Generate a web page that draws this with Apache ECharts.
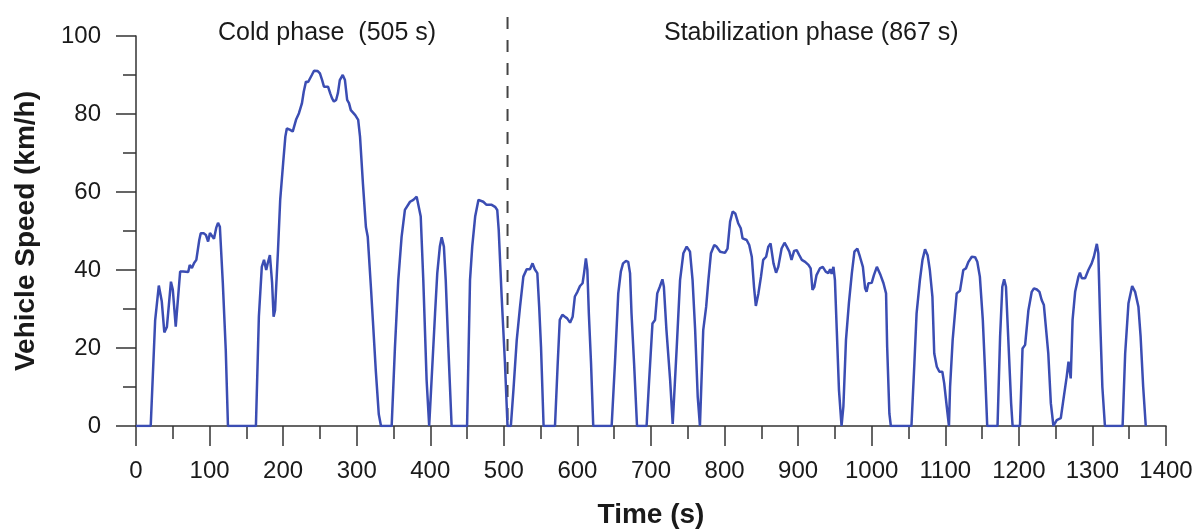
<!DOCTYPE html>
<html>
<head>
<meta charset="utf-8">
<script src="https://cdn.jsdelivr.net/npm/echarts@6/dist/echarts.min.js"></script>
<style>
  html, body { margin: 0; padding: 0; background: #fff; }
  #chart { width: 1197px; height: 530px; }
</style>
</head>
<body>
<div id="chart"></div>
<script>
// time (s) and speed (km/h)
const timeS = [
  0, 20, 26, 31, 35, 38.5, 42, 47.5, 50, 54, 60, 64, 71, 73, 76, 79, 82, 86, 88, 92, 95, 98, 100.5, 103, 106, 109, 111.5, 114, 118, 122, 125,
  163, 167, 171, 174, 177, 179, 182, 185, 187, 189, 193, 196, 200, 203, 205, 209, 213, 217.5, 221.5, 225.5, 228, 231, 234, 236.5, 239, 242, 247, 250,
  253, 255.5, 258, 261, 264, 266.5, 269, 272, 274.5, 277, 281, 284, 287, 289.5, 292, 298, 302, 304.5, 308.5, 312.5, 315, 319.5, 322, 326, 330, 333,
  347.5, 352, 356.5, 361, 365.5, 368, 372.5, 377, 381.5, 387, 390.5, 395, 398.5, 401, 406.5, 409.5, 413, 415.5, 418.5, 421, 424.5, 429,
  450, 454, 457, 461, 465.5, 472, 476.5, 483.5, 488, 491, 493, 497, 501.5, 505, 509.5, 513, 517.5, 522, 526.5, 531, 535.5, 539, 542, 545.5, 548, 550.5, 554,
  569.5, 573, 576, 579.5, 583, 586, 590, 593.5, 596.5, 600, 603.5, 607, 609, 611.5, 613.5, 615.5, 618.5, 621.5,
  646.5, 651, 655.5, 659, 662, 666, 669, 671.5, 673.5, 677, 681, 694, 697.5, 702, 705.5, 708.5, 712, 715.5, 717.5, 721, 726, 729.5,
  735, 739.5, 744, 748.5, 753, 756.5, 760, 763.5, 766.5, 771, 775, 778, 781.5, 786, 789, 794, 800.5, 804, 807.5, 811, 814.5, 818.5, 822, 824.5,
  830, 833.5, 837, 840, 842.5, 846, 849.5, 852.5, 856.5, 859.5, 862.5, 866.5, 870, 873, 877.5, 881.5, 884.5, 888, 891, 894.5, 898, 901.5, 905,
  909.5, 914, 917, 919.5, 922, 925, 929.5, 933.5, 937.5, 941, 943.5, 945.5, 948, 950, 952.5, 955.5, 959, 961.5, 965, 969, 973, 976.5, 980.5, 984,
  988, 991, 993, 995.5, 1000, 1003, 1007, 1009.5, 1012, 1016, 1019.5, 1021, 1024, 1026,
  1054, 1058, 1061, 1065.5, 1069, 1072.5, 1076, 1079, 1082.5, 1085, 1088.5, 1092, 1096, 1098.5, 1102, 1105,
  1106.5, 1110, 1115.5, 1120, 1124.5, 1128, 1131.5, 1136, 1140.5, 1143.5, 1147, 1151, 1154, 1157,
  1171, 1174.5, 1177.5, 1180, 1182.5, 1185.5, 1189.5, 1191.5,
  1201.5, 1205, 1208.5, 1213, 1217.5, 1220.5, 1224.5, 1228, 1231, 1234, 1236.5, 1240, 1243.5, 1247,
  1251.5, 1257, 1260.5, 1265, 1267.5, 1270.5, 1273, 1276.5, 1281, 1283, 1285.5, 1290, 1294.5, 1299, 1302, 1306, 1308, 1310.5, 1313.5, 1317,
  1341, 1344.5, 1349, 1354, 1358, 1362.5, 1365.5, 1369, 1372.5
];
const speedKmh = [
  0, 0, 27, 36, 32, 24, 25.4, 37, 35, 25.5, 39.6, 39.6, 39.5, 41.3, 40.5, 41.8, 42.6, 47.7, 49.4, 49.4, 49, 47.3, 49.5, 49, 48, 50.8, 52.1, 51.1, 36.7, 19.5, 0,
  0, 28, 40.8, 42.6, 40, 41.7, 43.8, 36.7, 28, 29.7, 45, 58, 67.4, 74.2, 76.3, 76, 75.5, 78.5, 80.2, 82.7, 85.7, 88.3, 88.2, 89.1, 90, 91.1, 91, 90.4,
  88.7, 87, 87.2, 87, 85.3, 84, 83.2, 83.6, 85.4, 88.7, 90, 88.7, 83.6, 82.8, 81, 79.7, 78.5, 74.2, 62, 51, 48.5, 35, 27, 14, 3, 0,
  0, 20.3, 37.4, 48.5, 55.4, 55.8, 57.5, 58, 58.8, 53.7, 37.4, 11.8, 0, 0, 28.9, 39.2, 46, 48.4, 46, 37.4, 20.3, 0,
  0, 37.4, 46, 53.7, 58, 57.5, 56.7, 56.7, 56.2, 55.4, 50.3, 33.2, 16.1, 0, 0, 9.2, 22, 30.6, 38.3, 40.2, 40.2, 41.7, 40.2, 39.2, 30.6, 20.3, 0,
  0, 15.2, 27.2, 28.5, 28, 27.6, 26.5, 28, 33.2, 34.4, 35.9, 36.6, 39.2, 43, 40, 28.9, 16.1, 0,
  0, 16.1, 34, 39.6, 41.7, 42.3, 42.1, 39.2, 28.9, 16.1, 0, 0, 11.8, 26.3, 27.2, 34, 35.7, 37.6, 35.7, 24.6, 11.8, 0.5,
  20.3, 37.4, 44.3, 46, 44.7, 37.4, 24.6, 7.5, 0, 24.6, 30.6, 37.4, 44.3, 46.4, 46, 44.7, 44.4, 45.5, 52.4, 55, 54.5, 52, 50.7, 48.1,
  47.7, 46.4, 43.4, 35.7, 30.8, 34, 38.3, 42.6, 43.4, 46, 46.8, 41.7, 39.3, 40.8, 45.5, 47, 46, 44.7, 42.6, 44.9, 45.1, 43.8, 42.6,
  42.1, 41.3, 40.4, 34.9, 35.7, 38.7, 40.4, 40.8, 39.6, 39.2, 40.2, 39, 40.8, 37.4, 24.6, 9.2, 0, 5, 22, 31.5, 39.2, 44.7, 45.5, 43.4,
  40.8, 35.3, 34.4, 36.6, 36.7, 38.7, 40.8, 41, 38.7, 36.6, 34, 20.3, 3.2, 0,
  0, 16.1, 28.9, 37.4, 42.6, 45.3, 43.8, 40, 33.2, 18.6, 15.2, 13.9, 13.9, 11, 5, 0,
  10, 22, 34, 34.7, 40, 40.4, 42.1, 43.4, 43.3, 42.1, 38.3, 27.2, 14.4, 0,
  0, 22.9, 35.7, 37.6, 35.7, 22.9, 5.8, 0,
  0, 19.9, 20.8, 29.7, 34.4, 35.3, 35, 34.4, 32.3, 31, 30.6, 18.6, 5.8, 0,
  1.5, 2, 6.7, 12.6, 16.5, 12.2, 27.2, 34.4, 38.3, 39.3, 37.9, 37.9, 40, 41.7, 43.4, 46.7, 44.3, 27.2, 10, 0,
  0, 18.6, 31.5, 35.9, 34.4, 30.6, 22.9, 10, 0
];
const phaseSplit = 505;
const phaseLabels = ["Cold phase  (505 s)", "Stabilization phase (867 s)"];

const textColor = "#1a1a1a";
const axisColor = "#333";
const font = "Liberation Sans, Arial, sans-serif";

const chart = echarts.init(document.getElementById("chart"));

const option = {
  backgroundColor: "#fff",
  animation: false,
  grid: { left: 136, right: 31, top: 36, bottom: 104, outerBoundsMode: "none" },
  xAxis: {
    type: "value",
    min: 0,
    max: 1400,
    interval: 100,
    name: "Time (s)",
    nameLocation: "middle",
    nameGap: 75,
    nameTextStyle: { fontFamily: font, fontSize: 28, fontWeight: "bold", color: textColor },
    axisLine: { show: true, onZero: false, lineStyle: { color: axisColor, width: 1.5 } },
    axisTick: { show: true, inside: false, length: 20, lineStyle: { color: axisColor, width: 1.5 } },
    minorTick: { show: true, splitNumber: 2, length: 13, lineStyle: { color: axisColor, width: 1.5 } },
    axisLabel: { fontFamily: font, fontSize: 24, color: textColor, margin: 33, formatter: (v) => String(v) },
    splitLine: { show: false },
  },
  yAxis: {
    type: "value",
    min: 0,
    max: 100,
    interval: 20,
    name: "Vehicle Speed (km/h)",
    nameLocation: "middle",
    nameGap: 96,
    nameTextStyle: { fontFamily: font, fontSize: 28, fontWeight: "bold", color: textColor },
    axisLine: { show: true, lineStyle: { color: axisColor, width: 1.5 } },
    axisTick: { show: true, inside: false, length: 20, lineStyle: { color: axisColor, width: 1.5 } },
    minorTick: { show: true, splitNumber: 2, length: 13, lineStyle: { color: axisColor, width: 1.5 } },
    axisLabel: { fontFamily: font, fontSize: 24, color: textColor, margin: 35 },
    splitLine: { show: false },
  },
  series: [
    {
      type: "line",
      data: timeS.map((t, i) => [t, speedKmh[i]]),
      showSymbol: false,
      smooth: false,
      lineStyle: { color: "#3b4db3", width: 2.5 },
      z: 3,
    },
  ],
};
chart.setOption(option);

// phase divider and phase captions
const splitX = chart.convertToPixel({ xAxisIndex: 0 }, phaseSplit);
const baseY = chart.convertToPixel({ yAxisIndex: 0 }, 0);
chart.setOption({
  graphic: [
    {
      type: "line",
      shape: { x1: splitX, y1: 17, x2: splitX, y2: baseY },
      style: { stroke: "#444", lineWidth: 2, lineDash: [12, 11] },
      z: 2,
    },
    {
      type: "text",
      left: 218,
      top: 21,
      style: { text: phaseLabels[0], font: "25px " + font, fill: textColor },
    },
    {
      type: "text",
      left: 664,
      top: 21,
      style: { text: phaseLabels[1], font: "25px " + font, fill: textColor },
    },
  ],
});
</script>
</body>
</html>
